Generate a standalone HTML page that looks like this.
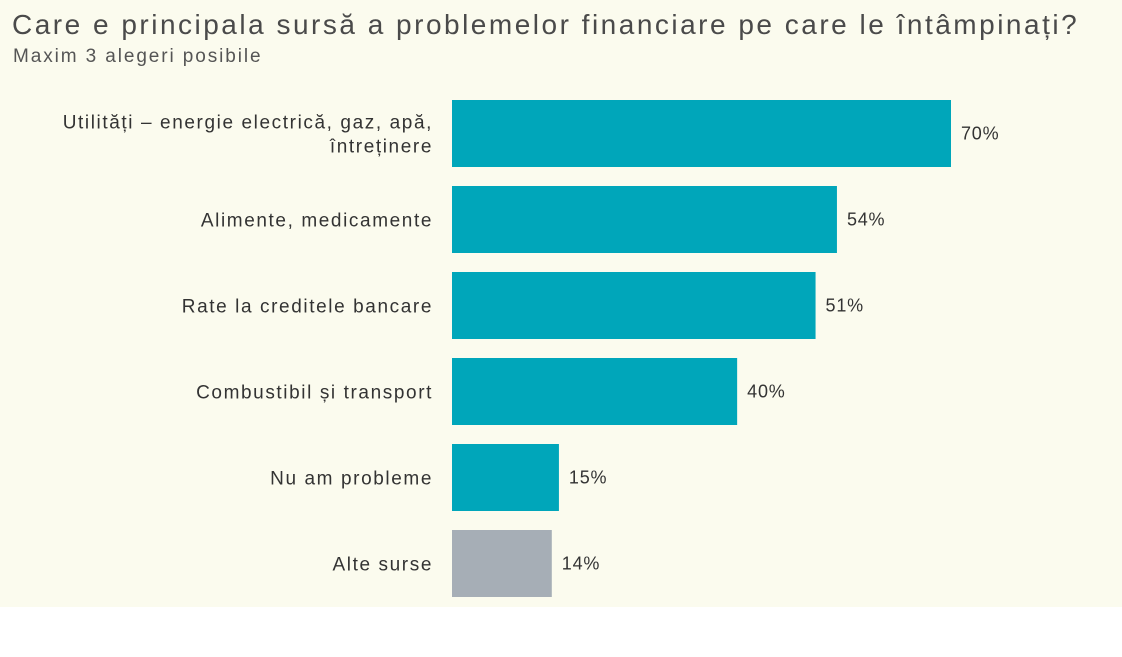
<!DOCTYPE html>
<html><head><meta charset="utf-8"><style>
body{margin:0;width:1122px;height:657px;background:#fff;overflow:hidden;font-family:"Liberation Sans",sans-serif}
#bg{position:absolute;left:0;top:0;width:1122px;height:607px;background:#fbfbee}
#title{position:absolute;left:12px;top:9px;font-size:28px;color:#4a4a4a;white-space:nowrap;letter-spacing:2.5px}
#sub{position:absolute;left:13px;top:46px;font-size:19px;color:#555;white-space:nowrap;letter-spacing:1.9px}
svg{position:absolute;left:0;top:0}
</style></head><body>
<div id="bg"></div>
<div id="title">Care e principala sursă a problemelor financiare pe care le întâmpinați?</div>
<div id="sub">Maxim 3 alegeri posibile</div>
<svg id="chart" width="1122" height="657"></svg>
<script>
const categories=[["Utilități – energie electrică, gaz, apă,","întreținere"],["Alimente, medicamente"],["Rate la creditele bancare"],["Combustibil și transport"],["Nu am probleme"],["Alte surse"]];
const values=[70,54,51,40,15,14];
const valueLabels=["70%","54%","51%","40%","15%","14%"];
const NS="http://www.w3.org/2000/svg",svg=document.getElementById('chart');
const x0=452,scale=499/70,top0=100,pitch=86,bh=67;
const xs=v=>v*scale;
function mk(t,a){const e=document.createElementNS(NS,t);for(const k in a)e.setAttribute(k,a[k]);svg.appendChild(e);return e;}
values.forEach((v,i)=>{
 const y=top0+i*pitch;
 const r=mk('rect',{x:x0,y:y,width:xs(v),height:bh,fill:i==5?'#a6aeb6':'#00a6ba'});
 
 
 const t=mk('text',{x:x0+xs(v)+10,y:y+bh/2+6,'font-size':18,fill:'#333','letter-spacing':'0.8px','font-family':'Liberation Sans, sans-serif'});
 t.textContent=valueLabels[i];
 
 
 const lines=categories[i];
 lines.forEach((ln,j)=>{
  const c=mk('text',{x:433,y:y+bh/2+7+(j-(lines.length-1)/2)*24,'font-size':19,fill:'#333','text-anchor':'end','letter-spacing':'1.6px','font-family':'Liberation Sans, sans-serif'});
  c.textContent=ln;
  
  
 });
});
</script>
</body></html>
